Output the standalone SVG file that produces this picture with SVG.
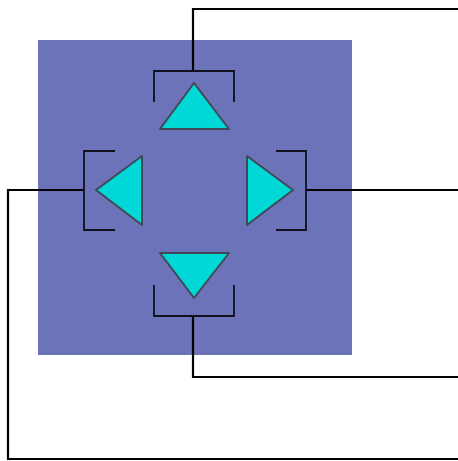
<svg xmlns="http://www.w3.org/2000/svg" width="458" height="461" viewBox="0 0 458 461">
<style>
.tri{fill:#00d8d8;stroke:#404858;stroke-width:2;stroke-linejoin:round}
.br{fill:none;stroke:#101020;stroke-width:1.8}
.wire{fill:none;stroke:#000;stroke-width:2.2}
</style>
<rect x="0" y="0" width="458" height="461" fill="#fff"/>
<rect id="panel" x="38" y="40" width="314" height="315" fill="#6c73b8"/>
<g id="connectors">
<polyline class="wire" points="193,71 193,9 458,9"/>
<polyline class="wire" points="306,190 458,190"/>
<polyline class="wire" points="193,316 193,377 458,377"/>
<polyline class="wire" points="84,190 8,190 8,459 458,459"/>
</g>
<g id="up">
<polyline class="br" points="154,102 154,71 234,71 234,102"/>
<polygon class="tri" points="194,83 229,129 160,129"/>
</g>
<g id="left">
<polyline class="br" points="115,151 84,151 84,230 115,230"/>
<polygon class="tri" points="96,190 142,156 142,225"/>
</g>
<g id="right">
<polyline class="br" points="276,151 306,151 306,230 276,230"/>
<polygon class="tri" points="293,190 247,156 247,225"/>
</g>
<g id="down">
<polyline class="br" points="154,285 154,316 234,316 234,285"/>
<polygon class="tri" points="194,298 229,253 160,253"/>
</g>
</svg>
